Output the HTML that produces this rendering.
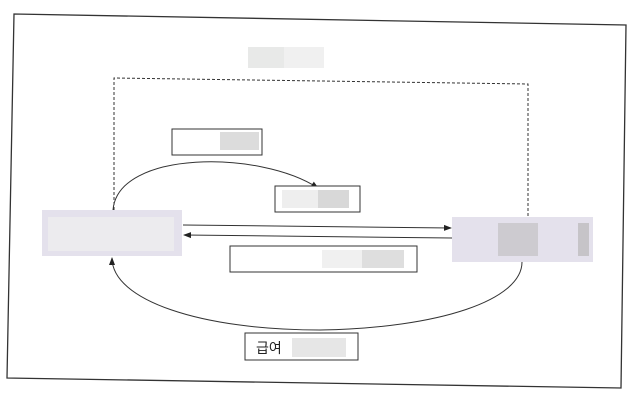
<!DOCTYPE html>
<html><head><meta charset="utf-8"><style>
body{margin:0;width:635px;height:401px;background:#fff;overflow:hidden;font-family:"Liberation Sans","Noto Sans CJK KR",sans-serif}
</style></head><body>
<svg width="635" height="401" xmlns="http://www.w3.org/2000/svg">
<defs><marker id="a" markerWidth="8" markerHeight="8" refX="7" refY="4" orient="auto"><path d="M0,1 L8,4 L0,7 Z" fill="#222"/></marker></defs>
<polygon points="14,14 626,25 621,388 7,378" fill="none" stroke="#333" stroke-width="1.3"/>
<rect x="248" y="47" width="36" height="21" fill="#e8e9e8"/><rect x="284" y="47" width="40" height="21" fill="#f0f0f0"/>
<path d="M114,210 L114,78 L528,84 L528,218" fill="none" stroke="#333" stroke-dasharray="3,2"/>
<rect x="172" y="129" width="90" height="26" fill="#fff" stroke="#333"/>
<rect x="220" y="132" width="39" height="18" fill="#dcdcdc"/>
<path d="M113,210 C118,150 260,150 318,188" fill="none" stroke="#333" marker-end="url(#a)"/>
<rect x="275" y="186" width="85" height="26" fill="#fff" stroke="#333"/>
<rect x="282" y="190" width="36" height="18" fill="#eee"/><rect x="318" y="190" width="31" height="18" fill="#d8d8d8"/>
<rect x="42" y="210" width="140" height="46" fill="#e4e1ec"/>
<rect x="48" y="217" width="126" height="34" fill="#ecebee"/>
<rect x="452" y="217" width="141" height="45" fill="#e4e1ec"/>
<rect x="498" y="223" width="40" height="33" fill="#cdcbd0"/><rect x="578" y="223" width="11" height="33" fill="#c6c4c8"/>
<line x1="183" y1="225" x2="451" y2="228" stroke="#333" marker-end="url(#a)"/>
<line x1="452" y1="238" x2="184" y2="235" stroke="#333" marker-end="url(#a)"/>
<rect x="230" y="246" width="187" height="26" fill="#fff" stroke="#333"/>
<rect x="322" y="250" width="82" height="18" fill="#f0f0f0"/><rect x="362" y="250" width="42" height="18" fill="#dedede"/>
<path d="M522,262 C522,300 440,328 320,330 C200,330 112,300 112,258" fill="none" stroke="#333" marker-end="url(#a)"/>
<rect x="245" y="333" width="113" height="27" fill="#fff" stroke="#333"/>
<text x="256" y="353" font-size="14" fill="#222" font-family="Liberation Sans, Noto Sans CJK KR, sans-serif">급여</text>
<rect x="292" y="338" width="54" height="19" fill="#e6e6e6"/>
</svg>
</body></html>
